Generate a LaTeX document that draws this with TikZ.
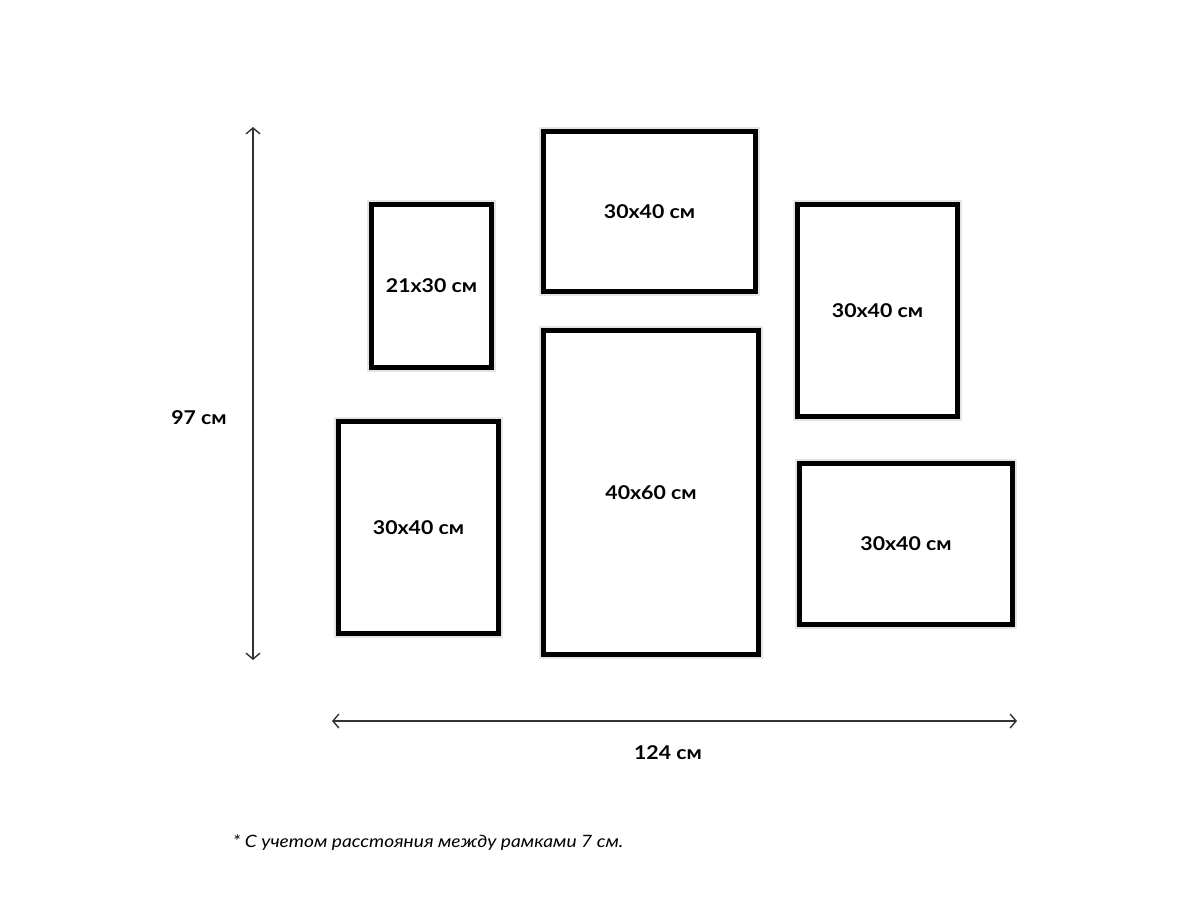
\documentclass[tikz,border=0pt]{standalone}
\usepackage{fontspec}
\setmainfont{Lato}
\newfontfamily\labfont[FakeStretch=1.12]{Lato}
\newfontfamily\notefont[FakeStretch=1.13]{Lato}
\usetikzlibrary{arrows.meta}
\begin{document}
\begin{tikzpicture}[x=1pt,y=-1pt,
  frame/.style={draw=black,line width=5pt,fill=white,inner sep=0pt,
    font=\labfont\fontsize{19}{22}\selectfont\bfseries,
    preaction={draw=black!10,line width=9pt}},
  dim/.style={draw=black!80,line width=1.4pt,{Straight Barb[length=6pt,width=14pt]}-{Straight Barb[length=6pt,width=14pt]}},
  dimlabel/.style={font=\labfont\fontsize{19}{22}\selectfont\bfseries,inner sep=0pt},
  note/.style={font=\notefont\fontsize{17}{20}\selectfont\itshape,inner sep=0pt}]
\useasboundingbox[fill=white] (0,0) rectangle (1200,900);
\node[frame,minimum width=120pt,minimum height=163pt] (f1) at (431.5,286) {21x30 см};
\node[frame,minimum width=212pt,minimum height=160pt] (f2) at (649.5,211.5) {30x40 см};
\node[frame,minimum width=160pt,minimum height=212pt] (f3) at (877.5,310.5) {30x40 см};
\node[frame,minimum width=160pt,minimum height=212pt] (f4) at (418.5,527.5) {30x40 см};
\node[frame,minimum width=215pt,minimum height=324pt] (f5) at (651,492.5) {40x60 см};
\node[frame,minimum width=213pt,minimum height=161pt] (f6) at (906,544) {30x40 см};
\coordinate (vt) at (253,127);
\coordinate (vb) at (253,660);
\coordinate (hl) at (332,721);
\coordinate (hr) at (1017,721);
\draw[dim] (vt) -- (vb);
\draw[dim] (hl) -- (hr);
\node[dimlabel] (h) at (199,418) {97 см};
\node[dimlabel] (w) at (668,753) {124 см};
\node[note] (n) at (428,843) {* С учетом расстояния между рамками 7 см.};
\end{tikzpicture}
\end{document}
